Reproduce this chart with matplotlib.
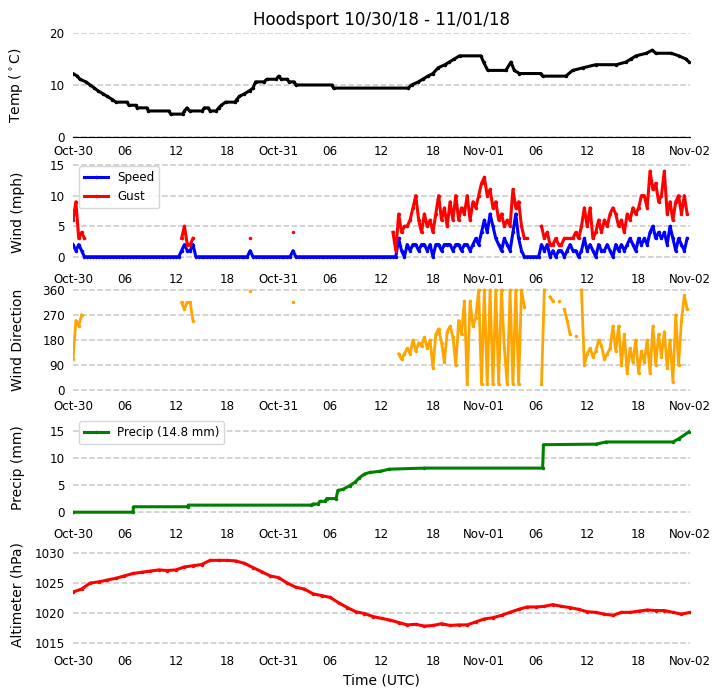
import numpy as np
import matplotlib
matplotlib.use('Agg')
import matplotlib.pyplot as plt
from matplotlib.ticker import FuncFormatter
import matplotlib.dates as mdates

nan = np.nan
start = np.datetime64('2018-10-30T00:00')
title = 'Hoodsport 10/30/18 - 11/01/18'

# temperature (deg C) : hours since start / value
temp_hours = [0, 0.5, 0.8, 1.5, 2.0, 2.5, 2.9, 3.5, 4.0, 4.6, 5.0, 6.3, 6.5, 7.3, 7.5, 8.6, 8.8,
              11.2, 11.4, 12.8, 13.0, 13.3, 13.6, 15.1, 15.3, 15.8, 16.0, 16.7, 17.0, 17.3, 17.8,
              18.9, 19.1, 19.4, 20.0, 20.6, 21.0, 21.3, 22.3, 22.6, 23.7, 24.0, 24.3, 25.0, 25.2,
              25.8, 26.0, 30.2, 30.4, 39.1, 39.5, 40.3, 40.8, 41.4, 42.0, 42.6, 43.4, 43.9, 44.5,
              45.1, 47.6, 47.9, 48.4, 50.5, 51.1, 51.5, 52.1, 54.6, 54.8, 57.5, 58.3, 59.5, 61.0,
              63.4, 64.5, 65.1, 65.7, 66.9, 67.6, 68.0, 69.8, 70.7, 71.5, 71.9]
temp_values = [12.2, 11.7, 11.1, 10.6, 10.0, 9.4, 8.9, 8.3, 7.8, 7.2, 6.7, 6.7, 6.1, 6.1, 5.6, 5.6, 5.0,
               5.0, 4.4, 4.4, 5.0, 5.6, 5.0, 5.0, 5.6, 5.6, 5.0, 5.0, 5.6, 6.1, 6.7,
               6.7, 7.2, 7.8, 8.3, 8.9, 9.4, 10.6, 10.6, 11.1, 11.1, 11.7, 11.1, 11.1, 10.6,
               10.6, 10.0, 10.0, 9.4, 9.4, 10.0, 10.6, 11.1, 11.7, 12.2, 13.3, 13.9, 14.4, 15.0,
               15.6, 15.6, 14.4, 12.8, 12.8, 14.4, 12.8, 12.2, 12.2, 11.7, 11.7, 12.8, 13.3, 13.9,
               13.9, 14.4, 15.0, 15.6, 16.1, 16.7, 16.1, 16.1, 15.6, 15.0, 14.4]

# wind every 20 min from Oct-30 00:00 (mph, degrees)
wind_speed = [2, 1, 2, 1, 0, 0, 0, 0, 0, 0, 0, 0,
              0, 0, 0, 0, 0, 0, 0, 0, 0, 0, 0, 0,
              0, 0, 0, 0, 0, 0, 0, 0, 0, 0, 0, 0,
              0, 0, 1, 2, 1, 1, 2, 0, 0, 0, 0, 0,
              0, 0, 0, 0, 0, 0, 0, 0, 0, 0, 0, 0,
              0, 0, 1, 0, 0, 0, 0, 0, 0, 0, 0, 0,
              0, 0, 0, 0, 0, 1, 0, 0, 0, 0, 0, 0,
              0, 0, 0, 0, 0, 0, 0, 0, 0, 0, 0, 0,
              0, 0, 0, 0, 0, 0, 0, 0, 0, 0, 0, 0,
              0, 0, 0, 0, 0, 0, 3, 1, 0, 2, 1, 2,
              2, 1, 2, 2, 1, 2, 0, 2, 2, 1, 2, 2,
              2, 1, 2, 2, 1, 2, 2, 1, 2, 3, 2, 4,
              6, 4, 7, 5, 3, 2, 1, 3, 2, 1, 4, 7,
              3, 1, 0, 0, 0, 0, 0, 0, 2, 1, 2, 0,
              1, 0, 1, 1, 0, 1, 2, 1, 1, 0, 1, 3,
              1, 2, 1, 0, 2, 1, 1, 2, 1, 0, 2, 1,
              2, 1, 2, 3, 2, 1, 3, 2, 3, 2, 4, 5,
              3, 4, 3, 4, 2, 5, 3, 1, 3, 2, 1, 3]
wind_gust = [6, 9, 3, 4, 3, nan, nan, nan, nan, nan, nan, nan,
             nan, nan, nan, nan, nan, nan, nan, nan, nan, nan, nan, nan,
             nan, nan, nan, nan, nan, nan, nan, nan, nan, nan, nan, nan,
             nan, nan, 3, 5, 2, 2, 3, nan, nan, nan, nan, nan,
             nan, nan, nan, nan, nan, nan, nan, nan, nan, nan, nan, nan,
             nan, nan, 3, nan, nan, nan, nan, nan, nan, nan, nan, nan,
             nan, nan, nan, nan, nan, 4, nan, nan, nan, nan, nan, nan,
             nan, nan, nan, nan, nan, nan, nan, nan, nan, nan, nan, nan,
             nan, nan, nan, nan, nan, nan, nan, nan, nan, nan, nan, nan,
             nan, nan, nan, nan, 4, 1, 7, 4, 5, 5, 6, 8,
             10, 6, 4, 7, 5, 6, 4, 7, 10, 6, 8, 5,
             9, 6, 10, 6, 8, 7, 10, 6, 9, 8, 10, 12,
             13, 10, 11, 8, 9, 6, 7, 5, 6, 5, 11, 8,
             9, 5, 3, 3, nan, nan, nan, nan, 5, 3, 4, 2,
             2, 3, 2, 2, 3, 3, 3, 3, 4, 3, 5, 8,
             5, 8, 3, 4, 6, 4, 6, 5, 7, 8, 7, 5,
             6, 4, 7, 6, 8, 7, 8, 10, 10, 8, 14, 11,
             12, 9, 10, 14, 7, 9, 6, 9, 10, 7, 10, 7]
wind_dir = [110, 250, 230, 270, nan, nan, nan, nan, nan, nan, nan, nan,
            nan, nan, nan, nan, nan, nan, nan, nan, nan, nan, nan, nan,
            nan, nan, nan, nan, nan, nan, nan, nan, nan, nan, nan, nan,
            nan, nan, 315, 290, 315, 315, 250, nan, nan, nan, nan, nan,
            nan, nan, nan, nan, nan, nan, nan, nan, nan, nan, nan, nan,
            nan, nan, 355, nan, nan, nan, nan, nan, nan, nan, nan, nan,
            nan, nan, nan, nan, nan, 315, nan, nan, nan, nan, nan, nan,
            nan, nan, nan, nan, nan, nan, nan, nan, nan, nan, nan, nan,
            nan, nan, nan, nan, nan, nan, nan, nan, nan, nan, nan, nan,
            nan, nan, nan, nan, nan, nan, 130, 110, 130, 150, 130, 180,
            140, 170, 160, 190, 150, 180, 80, 200, 220, 170, 100, 210,
            230, 190, 90, 250, 200, 320, 20, 320, 230, 260, 360, 20,
            360, 20, 360, 20, 360, 20, 360, 150, 20, 360, 20, 360,
            20, 360, 300, nan, nan, nan, nan, nan, 20, 360, nan, 335,
            320, nan, 320, nan, 290, 250, 200, nan, 195, nan, 360, 90,
            130, 150, 120, 140, 180, 160, 110, 130, 150, 230, 140, 230,
            90, 200, 60, 150, 100, 180, 60, 140, 100, 180, 60, 230,
            90, 200, 120, 210, 80, 180, 30, 270, 90, 250, 340, 290]

# accumulated precipitation (mm) : hours since start / value
precip_hours = [0, 7.0, 7.05, 13.4, 13.45, 27.8, 28.0, 28.6, 28.8, 29.4, 29.6, 30.7, 30.9, 31.5,
                32.3, 32.9, 33.4, 34.0, 34.6, 35.8, 36.9, 41.0, 54.8, 54.9, 61.0, 62.2, 70.0,
                70.7, 71.9]
precip_values = [0, 0, 1.0, 1.0, 1.3, 1.3, 1.5, 1.5, 2.0, 2.0, 2.5, 2.5, 4.0, 4.2,
                 4.9, 5.5, 6.3, 7.0, 7.3, 7.5, 7.9, 8.1, 8.1, 12.4, 12.5, 12.9, 12.9,
                 13.5, 14.8]
precip_total = 14.8

# altimeter (hPa), hourly
altimeter = [1023.5, 1024.0, 1025.0, 1025.2, 1025.5, 1025.8, 1026.2, 1026.6, 1026.8, 1027.0,
             1027.2, 1027.1, 1027.2, 1027.7, 1027.9, 1028.1, 1028.8, 1028.8, 1028.8, 1028.7,
             1028.3, 1027.6, 1026.9, 1026.2, 1025.9, 1025.0, 1024.3, 1024.0, 1023.2, 1022.9,
             1022.6, 1021.7, 1020.9, 1020.2, 1019.9, 1019.4, 1019.1, 1018.8, 1018.4, 1018.0,
             1018.1, 1017.8, 1017.9, 1018.2, 1017.9, 1018.0, 1018.0, 1018.5, 1019.0, 1019.2,
             1019.6, 1020.1, 1020.6, 1021.0, 1021.0, 1021.1, 1021.4, 1021.1, 1020.9, 1020.6,
             1020.2, 1020.1, 1019.8, 1019.6, 1020.1, 1020.1, 1020.3, 1020.5, 1020.4, 1020.4,
             1020.1, 1019.8, 1020.1]


def to_time(hours):
    """hours since start -> datetime64"""
    return start + (np.asarray(hours, dtype=float) * 60).round().astype('timedelta64[m]')


def fmt_time(x, pos=None):
    d = mdates.num2date(x)
    if d.hour == 0:
        return d.strftime('%b-%d')
    return d.strftime('%H')


wind_time = to_time(np.arange(len(wind_speed)) / 3.0)
alt_time = to_time(np.arange(len(altimeter)))

fig, axes = plt.subplots(5, 1, figsize=(7.23, 7.0), dpi=100)
plt.subplots_adjust(left=0.101, right=0.9544, top=0.9529, bottom=0.0757, hspace=0.226)

style = dict(marker='.', markersize=3)
ax = axes[0]
ax.plot(to_time(temp_hours), temp_values, color='black', linewidth=2.2, **style)
ax.set_ylim(0, 20)
ax.set_yticks([0, 10, 20])
ax.set_ylabel(r'Temp ($^\circ$C)')
ax.set_title(title, fontsize=12)

ax = axes[1]
ax.plot(wind_time, wind_speed, color='blue', linewidth=2.2, label='Speed', **style)
ax.plot(wind_time, wind_gust, color='red', linewidth=2.2, label='Gust', **style)
ax.set_ylim(-1.26, 15.74)
ax.set_yticks([0, 5, 10, 15])
ax.set_ylabel('Wind (mph)')
ax.legend(loc='upper left', fontsize=8.6)

ax = axes[2]
ax.plot(wind_time, wind_dir, color='orange', linewidth=2, **style)
ax.set_ylim(-7.2, 367)
ax.set_yticks([0, 90, 180, 270, 360])
ax.set_ylabel('Wind Direction')

ax = axes[3]
ax.plot(to_time(precip_hours), precip_values, color='green', linewidth=2.2,
        label='Precip (%.1f mm)' % precip_total, **style)
ax.set_ylim(-1.34, precip_total * 1.2)
ax.set_yticks([0, 5, 10, 15])
ax.set_ylabel('Precip (mm)')
ax.legend(loc='upper left', fontsize=8.6)

ax = axes[4]
ax.plot(alt_time, altimeter, color='red', linewidth=2.2, **style)
ax.set_ylim(1014.3, 1031.7)
ax.set_yticks([1015, 1020, 1025, 1030])
ax.set_ylabel('Altimeter (hPa)')
ax.set_xlabel('Time (UTC)', fontsize=10)

for i, ax in enumerate(axes):
    ax.set_xlim(to_time(0), to_time(72))
    ax.xaxis.set_major_locator(mdates.HourLocator(byhour=[0, 6, 12, 18]))
    ax.xaxis.set_major_formatter(FuncFormatter(fmt_time))
    ax.tick_params(length=0, labelsize=8.6, pad=6)
    ax.grid(axis='y', linestyle='--', color='#c8c8c8', linewidth=1.1)
    ax.set_axisbelow(True)
    for side in ['top', 'right', 'left', 'bottom']:
        ax.spines[side].set_visible(False)
    ax.yaxis.label.set_fontsize(10)
    ax.yaxis.set_label_coords(-0.078, 0.5)
axes[0].spines['bottom'].set_visible(True)
axes[0].spines['bottom'].set_color('black')

plt.savefig('out.png', dpi=100)
